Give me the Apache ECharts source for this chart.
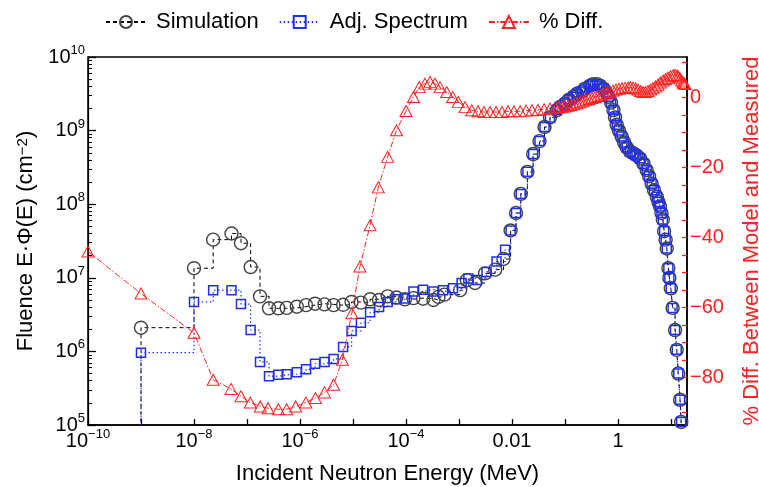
<!DOCTYPE html>
<html><head><meta charset="utf-8">
<script src="https://cdn.jsdelivr.net/npm/echarts@6/dist/echarts.min.js"></script>
<style>html,body{margin:0;padding:0;background:#fff}#c{width:759px;height:487px}</style>
</head><body><div id="c"></div>
<script>
// ---- data (energies in MeV, fluence in cm^-2, diff in %) ----
const lowSimE = [1e-10, 1e-9, 1e-8, 2.3e-8, 5.1e-8, 7.7e-8, 1.17e-7, 1.76e-7, 2.6e-7, 3.9e-7, 5.6e-7, 8.7e-7, 1.3e-6, 1.92e-6, 2.9e-6, 4.3e-6, 6.5e-6, 9.4e-6, 1.41e-5, 2.1e-5, 3.1e-5, 4.5e-5, 6.6e-5, 9.5e-5, 1.38e-4, 2.1e-4, 3.3e-4, 4.1e-4, 5.3e-4, 1.05e-3, 1.4e-3, 2.0e-3, 3.1e-3, 4.8e-3, 6.9e-3];
const lowSimF = [1e3, 2.1e6, 1.35e7, 3.3e7, 4.0e7, 2.95e7, 1.4e7, 5.6e6, 3.85e6, 3.85e6, 3.9e6, 4.05e6, 4.25e6, 4.45e6, 4.35e6, 4.25e6, 4.3e6, 4.7e6, 4.6e6, 5.1e6, 5.0e6, 5.6e6, 5.4e6, 5.1e6, 5.3e6, 5.2e6, 5.0e6, 5.5e6, 5.9e6, 6.8e6, 9.3e6, 8.5e6, 1.15e7, 1.29e7, 1.8e7];
const lowAdjE = [1e-10, 1e-9, 1e-8, 2.3e-8, 5.1e-8, 7.7e-8, 1.17e-7, 1.76e-7, 2.6e-7, 3.9e-7, 5.6e-7, 8.7e-7, 1.3e-6, 1.92e-6, 2.9e-6, 4.3e-6, 6.5e-6, 9.4e-6, 1.41e-5, 2.1e-5, 3.1e-5, 4.5e-5, 6.6e-5, 9.5e-5, 1.38e-4, 2.1e-4, 3.3e-4, 5.0e-4, 7.7e-4, 1.12e-3, 1.5e-3, 2.2e-3, 3.3e-3, 5.1e-3, 7.4e-3];
const lowAdjF = [1e3, 9.6e5, 4.7e6, 6.8e6, 6.8e6, 4.4e6, 1.95e6, 7.2e5, 4.6e5, 4.8e5, 4.9e5, 5.2e5, 5.7e5, 6.8e5, 7.2e5, 7.9e5, 1.15e6, 1.9e6, 2.45e6, 3.4e6, 4.0e6, 4.7e6, 5.1e6, 5.25e6, 6.5e6, 6.9e6, 6.5e6, 6.8e6, 7.2e6, 8.5e6, 9.8e6, 9.3e6, 1.2e7, 1.66e7, 2.4e7];
const highE = [9.4e-3, 1.19e-2, 1.46e-2, 1.95e-2, 2.5e-2, 3.3e-2, 4.1e-2, 5.2e-2, 7.0e-2, 8.05e-2, 0.1, 0.119, 0.144, 0.168, 0.207, 0.238, 0.295, 0.337, 0.4, 0.457, 0.53, 0.594, 0.66, 0.738, 0.82, 0.877, 0.944, 1.04, 1.17, 1.3, 1.46, 1.68, 1.95, 2.23, 2.6, 3.03, 3.47, 3.85, 4.3, 4.78, 5.4, 5.8, 6.2, 6.6, 7.0, 7.4, 7.9, 8.3, 8.9, 9.3, 9.9, 10.7, 11.9, 12.8, 13.7, 14.8, 15.5, 16.8];
const highF = [4.4e7, 7.6e7, 1.38e8, 2.75e8, 4.8e8, 7.2e8, 1.12e9, 1.51e9, 1.9e9, 2.1e9, 2.34e9, 2.63e9, 2.88e9, 3.16e9, 3.39e9, 3.72e9, 4.07e9, 4.27e9, 4.27e9, 4.07e9, 3.72e9, 3.31e9, 2.88e9, 2.4e9, 1.9e9, 1.51e9, 1.2e9, 1.0e9, 8.3e8, 6.9e8, 5.9e8, 5.2e8, 4.9e8, 4.6e8, 4.2e8, 3.55e8, 2.9e8, 2.4e8, 1.9e8, 1.55e8, 1.26e8, 1.07e8, 9.3e7, 7.6e7, 6.2e7, 4.3e7, 3.3e7, 2.5e7, 1.35e7, 1.0e7, 7.2e6, 3.9e6, 1.95e6, 1.05e6, 5.0e5, 2.2e5, 1.1e5, 3e4];
const diffE = [1e-10, 1e-9, 1e-8, 2.3e-8, 5.0e-8, 7.7e-8, 1.15e-7, 1.78e-7, 2.5e-7, 3.9e-7, 5.6e-7, 8.3e-7, 1.29e-6, 1.95e-6, 2.9e-6, 4.3e-6, 6.3e-6, 9.5e-6, 1.35e-5, 2.1e-5, 3.0e-5, 4.5e-5, 6.6e-5, 1.0e-4, 1.38e-4, 1.78e-4, 2.28e-4, 2.84e-4, 3.52e-4, 4.38e-4, 5.86e-4, 7.6e-4, 9.7e-4, 1.3e-3, 1.74e-3, 2.28e-3, 2.96e-3, 3.85e-3, 4.99e-3, 6.47e-3, 8.4e-3, 1.09e-2, 1.42e-2, 1.84e-2, 2.38e-2, 3.1e-2, 4.02e-2, 5.2e-2,
  6.8e-2, 7.7e-2, 8.8e-2, 0.1, 0.114, 0.13, 0.148, 0.168, 0.192, 0.219, 0.249, 0.284, 0.323, 0.368, 0.42, 0.478, 0.545, 0.619, 0.706, 0.805, 0.916, 1.04, 1.19, 1.36, 1.55, 1.72, 1.92, 2.14, 2.38, 2.66, 2.96, 3.3, 3.68, 4.1, 4.57, 5.1, 5.69, 6.3, 7.06, 7.9, 8.77, 9.8, 10.9, 11.9, 13.0, 13.8, 14.8, 15.8, 16.8, 17.6, 18.4];
const diffV = [-44, -56, -67.2, -80.6, -83.2, -85.3, -87.1, -88.2, -88.7, -89, -89, -88.2, -87.1, -85.8, -84.2, -82, -74.9, -61.6, -48.3, -36.5, -25.7, -17, -9.4, -3.9, 0.1, 2.9, 3.9, 4.4, 3.9, 2.9, 1.5, 0.1, -1.3, -2.8, -3.7, -4.0, -4.2, -4.2, -4.2, -4.2, -4.0, -4.0, -4.0, -3.8, -3.7, -3.6, -3.4, -3.2,
  -3.0, -2.9, -2.8, -2.6, -2.4, -2.2, -2.0, -1.7, -1.4, -1.1, -0.8, -0.5, -0.2, 0.1, 0.4, 0.7, 1.0, 1.3, 1.6, 1.9, 2.2, 2.4, 2.6, 2.7, 2.8, 2.9, 2.8, 2.5, 2.2, 1.8, 1.5, 1.5, 1.8, 2.2, 2.6, 3.1, 3.6, 4.2, 4.8, 5.2, 5.6, 6.0, 6.3, 6.4, 6.2, 5.9, 5.4, 4.8, 4.2, 4.0, 3.8];
const xLabelExps = [-10, -8, -6, -4, -2, 0];
const rightLabels = [0, -20, -40, -60, -80];
const rightTicks = [10, 5, 0, -5, -10, -15, -20, -25, -30, -35, -40, -45, -50, -55, -60, -65, -70, -75, -80, -85, -90];

const FONT = "'Liberation Sans', Arial, sans-serif";
const RED = '#ff2020';
const zip = (a, b) => a.map((v, i) => [v, b[i]]);
const simData = zip(lowSimE.concat(highE), lowSimF.concat(highF));
const adjData = zip(lowAdjE.concat(highE), lowAdjF.concat(highF));
const diffData = zip(diffE, diffV);

const minorExps = [];
for (let e = 5; e < 10; e++) for (let k = 2; k <= 9; k++) minorExps.push(e + Math.log10(k));

const supRich = {
  b: { fontSize: 20, fontFamily: FONT, color: '#000', lineHeight: 26 },
  s: { fontSize: 13, fontFamily: FONT, color: '#000', verticalAlign: 'top', lineHeight: 13 }
};

const chart = echarts.init(document.getElementById('c'), null, { renderer: 'canvas' });
chart.setOption({
  animation: false,
  backgroundColor: '#fff',
  textStyle: { fontFamily: FONT },
  grid: { left: 88, right: 72, top: 57, bottom: 62, outerBoundsMode: 'none', containLabel: false, show: true, borderColor: '#000', borderWidth: 1.5, backgroundColor: 'transparent' },
  legend: {
    left: 100, top: 6, itemWidth: 40, itemHeight: 15, itemGap: 20,
    textStyle: { fontSize: 22, fontFamily: FONT, color: '#000', padding: [0, 0, 0, 5] },
    data: ['Simulation', 'Adj. Spectrum', '% Diff.']
  },
  xAxis: [{
    type: 'log', logBase: 10, min: 1e-10, max: 20, interval: 1,
    name: 'Incident Neutron Energy (MeV)', nameLocation: 'middle', nameGap: 38,
    nameTextStyle: { fontSize: 22, fontFamily: FONT, color: '#000' },
    axisLine: { show: true, onZero: false, lineStyle: { color: '#000', width: 1.5 } },
    axisTick: { show: true, inside: true, length: 6, lineStyle: { color: '#000', width: 1.3 } },
    splitLine: { show: false },
    axisLabel: {
      margin: 3, rich: supRich,
      formatter: v => {
        const l = Math.log10(v), e = Math.round(l);
        if (Math.abs(l - e) > 1e-6 || xLabelExps.indexOf(e) < 0) return '';
        if (e >= -2) return '{b|' + (e === -2 ? '0.01' : '1') + '}';
        return '{b|10}{s|\u2212' + (-e) + '}';
      }
    }
  }],
  yAxis: [{
    type: 'log', logBase: 10, min: 1e5, max: 1e10, interval: 1, position: 'left',
    name: 'Fluence E\u00b7\u03a6(E) (cm{s|\u22122})', nameLocation: 'middle', nameGap: 50, nameRotate: 90,
    nameTextStyle: { fontSize: 22, fontFamily: FONT, color: '#000', rich: { s: { fontSize: 15, fontFamily: FONT, color: '#000', verticalAlign: 'top', lineHeight: 15 } } },
    axisLine: { show: true, onZero: false, lineStyle: { color: '#000', width: 1.2 } },
    axisTick: { show: true, inside: true, length: 8, lineStyle: { color: '#000', width: 1.3 } },
    splitLine: { show: false },
    axisLabel: {
      margin: 3, rich: supRich,
      formatter: v => '{b|10}{s|' + Math.round(Math.log10(v)) + '}'
    }
  }, {
    type: 'value', min: -93.5, max: 11.5, position: 'right',
    name: '% Diff. Between Model and Measured', nameLocation: 'middle', nameGap: 54, nameRotate: 90,
    nameTextStyle: { fontSize: 22, fontFamily: FONT, color: RED },
    axisLine: { show: true, onZero: false, lineStyle: { color: '#000', width: 1.5 } },
    axisTick: { show: true, inside: true, length: 5, customValues: rightTicks, lineStyle: { color: RED, width: 1.3 } },
    splitLine: { show: false },
    axisLabel: {
      margin: 3, color: RED, fontSize: 20, fontFamily: FONT, customValues: rightLabels,
      formatter: v => v < 0 ? '\u2212' + (-v) : String(v)
    }
  }, {
    type: 'value', min: 5, max: 10, position: 'left', offset: 0,
    axisLine: { show: false, onZero: false }, splitLine: { show: false },
    axisLabel: { show: true, customValues: minorExps, formatter: () => '' },
    axisTick: { show: true, inside: true, length: 4, customValues: minorExps, lineStyle: { color: '#000', width: 1 } }
  }],
  series: [{
    name: 'Simulation', type: 'line', yAxisIndex: 0, step: 'end', data: simData,
    symbol: 'circle', symbolSize: 13,
    itemStyle: { color: 'transparent', borderColor: '#444', borderWidth: 1.4 },
    lineStyle: { color: '#000', width: 1, type: [4, 3] },
    emphasis: { disabled: true }, clip: true
  }, {
    name: 'Adj. Spectrum', type: 'line', yAxisIndex: 0, step: 'end', data: adjData,
    symbol: 'rect', symbolSize: 9,
    itemStyle: { color: 'transparent', borderColor: '#1f2ff0', borderWidth: 1.5 },
    lineStyle: { color: '#2030ff', width: 1.2, type: [1.5, 2.5] },
    emphasis: { disabled: true }, clip: true
  }, {
    name: '% Diff.', type: 'line', yAxisIndex: 1, data: diffData,
    symbol: 'triangle', symbolSize: [12, 11],
    itemStyle: { color: 'transparent', borderColor: RED, borderWidth: 1 },
    lineStyle: { color: RED, width: 1, type: [6, 2, 1.5, 2] },
    emphasis: { disabled: true }, clip: true
  }]
});
</script>
</body></html>
